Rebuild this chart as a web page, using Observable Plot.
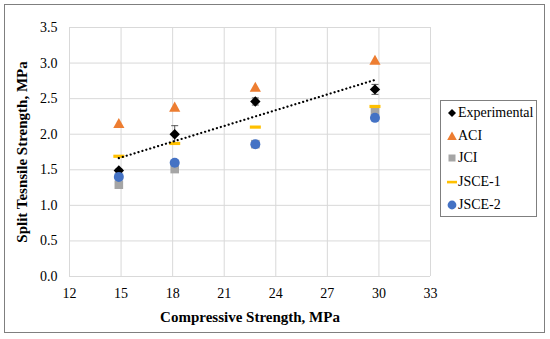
<!DOCTYPE html>
<html>
<head>
<meta charset="utf-8">
<script src="https://cdn.jsdelivr.net/npm/d3@7"></script>
<script src="https://cdn.jsdelivr.net/npm/@observablehq/plot@0.6"></script>
<style>
  html, body { margin: 0; padding: 0; background: #fff; }
  #wrap { position: relative; width: 550px; height: 339px; font-family: 'Liberation Serif', 'Times New Roman', serif; }
  #wrap svg text { font-family: 'Liberation Serif', 'Times New Roman', serif; }
  #border { position: absolute; left: 4px; top: 4px; width: 541px; height: 329px; border: 1px solid #7f7f7f; box-sizing: border-box; pointer-events: none; }
  #legend { position: absolute; left: 440px; top: 100px; width: 97px; height: 117px; border: 1px solid #7f7f7f; box-sizing: border-box; background: #fff; font-size: 14px; color: #000; }
  .item { position: absolute; left: 6px; height: 18px; display: flex; align-items: center; white-space: nowrap; }
  .item svg { margin-right: 1px; }
</style>
</head>
<body>
<div id="wrap"><div id="chart"></div><div id="legend"></div><div id="border"></div></div>
<script>
// ---- data ----
const compressive = [14.87, 18.12, 22.81, 29.77];
const experimental = [1.49, 2.00, 2.46, 2.63];
const expError = [0.02, 0.12, 0.05, 0.07];
const aci = [2.15, 2.38, 2.66, 3.04];
const jci = [1.29, 1.51, 1.86, 2.33];
const jsce1 = [1.69, 1.87, 2.10, 2.39];
const jsce2 = [1.40, 1.60, 1.86, 2.23];
const xTicks = [12, 15, 18, 21, 24, 27, 30, 33];
const yTicks = [0, 0.5, 1.0, 1.5, 2.0, 2.5, 3.0, 3.5];
const seriesNames = ["Experimental", "ACI", "JCI", "JSCE-1", "JSCE-2"];
const xTitle = "Compressive Strength, MPa";
const yTitle = "Split Tesnsile Strength, MPa";

const colors = { Experimental: "#000000", ACI: "#ED7D31", JCI: "#A5A5A5", "JSCE-1": "#FFC000", "JSCE-2": "#4472C4" };

const rows = compressive.map((x, i) => ({ x, exp: experimental[i], err: expError[i], aci: aci[i], jci: jci[i], jsce1: jsce1[i], jsce2: jsce2[i] }));

// custom symbols
const dash = { draw(ctx, size) { const w = 5.5, h = 1.6; ctx.rect(-w, -h, 2 * w, 2 * h); } };
const cap = { draw(ctx, size) { ctx.moveTo(-3.5, 0); ctx.lineTo(3.5, 0); } };
const diamond = { draw(ctx, size) { const r = 5.2; ctx.moveTo(0, -r); ctx.lineTo(r, 0); ctx.lineTo(0, r); ctx.lineTo(-r, 0); ctx.closePath(); } };
const triangle = { draw(ctx, size) { const r = 5.6; ctx.moveTo(0, -r); ctx.lineTo(r, r * 0.8); ctx.lineTo(-r, r * 0.8); ctx.closePath(); } };
const square = { draw(ctx, size) { const r = 4.3; ctx.rect(-r, -r, 2 * r, 2 * r); } };
const circle = { draw(ctx, size) { const r = 5; ctx.moveTo(r, 0); ctx.arc(0, 0, r, 0, 2 * Math.PI); } };

const serif = "'Liberation Serif', 'Times New Roman', serif";

const chart = Plot.plot({
  width: 550,
  height: 339,
  marginLeft: 69,
  marginRight: 120,
  marginTop: 27,
  marginBottom: 63,
  style: { fontFamily: serif, fontSize: "14px", color: "#000", background: "transparent" },
  x: { domain: [12, 33] },
  y: { domain: [0, 3.5] },
  marks: [
    Plot.gridX(xTicks, { stroke: "#d9d9d9", strokeOpacity: 1 }),
    Plot.gridY(yTicks, { stroke: "#d9d9d9", strokeOpacity: 1 }),
    Plot.axisX(xTicks, { tickSize: 0, tickPadding: 12, fontSize: 14, fill: "#000", label: null, tickFormat: d => String(d) }),
    Plot.axisY(yTicks, { tickSize: 0, tickPadding: 12, fontSize: 14, fill: "#000", label: null, tickFormat: d => d.toFixed(1) }),
    // axis titles
    Plot.text([xTitle], { text: d => d, frameAnchor: "bottom", dy: 41, lineAnchor: "middle", textAnchor: "middle", fontSize: 15, fontWeight: "bold", fill: "#000" }),
    Plot.text([yTitle], { text: d => d, frameAnchor: "left", dx: -47, rotate: -90, lineAnchor: "middle", textAnchor: "middle", fontSize: 15, fontWeight: "bold", fill: "#000" }),
    // error bars on experimental
    Plot.ruleX(rows, { x: "x", y1: d => d.exp - d.err, y2: d => d.exp + d.err, stroke: "#595959", strokeWidth: 1 }),
    Plot.dot(rows, { x: "x", y: d => d.exp + d.err, symbol: cap, stroke: "#595959", fill: "none", strokeWidth: 1 }),
    Plot.dot(rows, { x: "x", y: d => d.exp - d.err, symbol: cap, stroke: "#595959", fill: "none", strokeWidth: 1 }),
    // series
    Plot.dot(rows, { x: "x", y: "exp", symbol: diamond, fill: colors.Experimental, stroke: "none" }),
    Plot.dot(rows, { x: "x", y: "aci", symbol: triangle, fill: colors.ACI, stroke: "none" }),
    Plot.dot(rows, { x: "x", y: "jci", symbol: square, fill: colors.JCI, stroke: "none" }),
    Plot.dot(rows, { x: "x", y: "jsce1", symbol: dash, fill: colors["JSCE-1"], stroke: "none" }),
    Plot.dot(rows, { x: "x", y: "jsce2", symbol: circle, fill: colors["JSCE-2"], stroke: "none" }),
    // linear trendline of experimental
    Plot.linearRegressionY(rows, { x: "x", y: "exp", ci: 0, stroke: "#000", strokeWidth: 2.2, strokeDasharray: "0.1,4", strokeLinecap: "round" })
  ]
});
document.getElementById("chart").appendChild(chart);

// legend
const legendSymbols = {
  Experimental: '<polygon points="5,1 9,5 5,9 1,5" fill="#000"/>',
  ACI: '<polygon points="5,0.5 9.8,9 0.2,9" fill="#ED7D31"/>',
  JCI: '<rect x="1.5" y="1.5" width="7" height="7" fill="#A5A5A5"/>',
  "JSCE-1": '<rect x="0" y="3.8" width="10" height="2.6" fill="#FFC000"/>',
  "JSCE-2": '<circle cx="5" cy="5" r="4.4" fill="#4472C4"/>'
};
const legend = document.getElementById("legend");
const tops = [2.5, 25.5, 47.5, 72, 95];
seriesNames.forEach((name, i) => {
  const div = document.createElement("div");
  div.className = "item";
  div.style.top = tops[i] + "px";
  div.innerHTML = `<svg width="10" height="10" viewBox="0 0 10 10">${legendSymbols[name]}</svg><span>${name}</span>`;
  legend.appendChild(div);
});
</script>
</body>
</html>
